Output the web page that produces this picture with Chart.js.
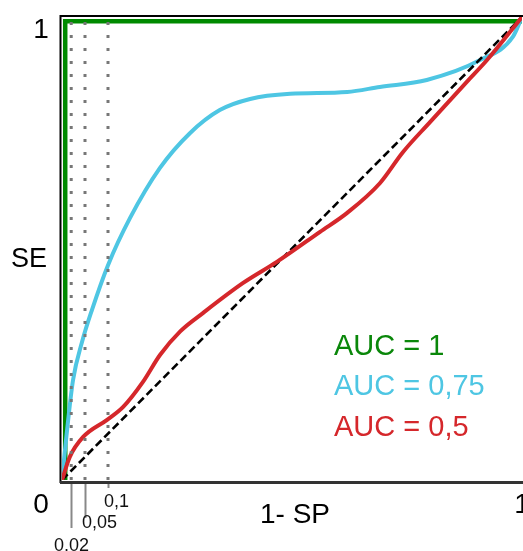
<!DOCTYPE html>
<html>
<head>
<meta charset="utf-8">
<script src="https://cdn.jsdelivr.net/npm/chart.js@4"></script>
<style>
  html, body { margin: 0; padding: 0; background: #fff; }
  #roc { display: block; }
</style>
</head>
<body>
<canvas id="roc" width="523" height="551" role="img" aria-label="ROC curves: AUC = 1, AUC = 0,75, AUC = 0,5"></canvas>
<script>
/* ── Data ────────────────────────────────────────────────────── */
const PERFECT_X = [0.007, 0.007, 1];
const PERFECT_Y = [0, 0.991, 0.991];

const GOOD_X = [0, 0.0087, 0.024, 0.0435, 0.065, 0.1, 0.148, 0.213, 0.278, 0.343, 0.409, 0.496, 0.62, 0.691, 0.793, 0.909, 0.98, 1];
const GOOD_Y = [0, 0.086, 0.216, 0.298, 0.367, 0.464, 0.566, 0.674, 0.749, 0.799, 0.823, 0.834, 0.838, 0.849, 0.864, 0.907, 0.957, 1];

const RANDOM_X = [0, 0.017, 0.046, 0.098, 0.133, 0.176, 0.213, 0.257, 0.307, 0.393, 0.467, 0.561, 0.62, 0.691, 0.741, 0.8, 0.88, 0.924, 1];
const RANDOM_Y = [0, 0.05, 0.093, 0.13, 0.158, 0.212, 0.27, 0.321, 0.361, 0.425, 0.471, 0.536, 0.577, 0.641, 0.708, 0.773, 0.86, 0.907, 1];

const DIAG_X = [0, 1];
const DIAG_Y = [0, 1];

const CUTOFFS = [0.02, 0.05, 0.1];
const CUTOFF_LABELS = ["0,02", "0,05", "0,1"];

const AUC_LABELS = ["AUC = 1", "AUC = 0,75", "AUC = 0,5"];
const AUC_COLORS = ["#0a870a", "#4ec6e3", "#d5272b"];

const X_TITLE = "1- SP";
const Y_TITLE = "SE";

/* ── Helpers ─────────────────────────────────────────────────── */
const pts = (xs, ys) => xs.map((x, i) => ({ x, y: ys[i] }));
const FONT = '"Liberation Sans", Arial, Helvetica, sans-serif';

const cutoffSets = CUTOFFS.map(c => ({
  data: pts([c, c], [0, 1]),
  borderColor: "#777",
  borderWidth: 3,
  borderDash: [3, 10],
  borderCapStyle: "butt",
  pointRadius: 0,
  order: 0
}));

/* frame, cutoff ticks and all the text */
const decor = {
  id: "decor",
  afterDraw(chart) {
    const { ctx, scales: { x } } = chart;
    ctx.save();

    // frame: top + left black, bottom axis dark grey
    ctx.strokeStyle = "#000";
    ctx.lineWidth = 2;
    ctx.beginPath();
    ctx.moveTo(523, 16); ctx.lineTo(60.5, 16); ctx.lineTo(60.5, 483);
    ctx.stroke();
    ctx.strokeStyle = "#333";
    ctx.lineWidth = 3;
    ctx.beginPath();
    ctx.moveTo(60, 482.5); ctx.lineTo(523, 482.5);
    ctx.stroke();

    // cutoff tick lines + staggered labels
    const tickEnd = [528, 518, 488];
    const labelBase = [551, 528, 507];
    const labelDx = [0, 14, 8];
    ctx.strokeStyle = "#888";
    ctx.lineWidth = 2;
    ctx.fillStyle = "#111";
    ctx.font = "18px " + FONT;
    ctx.textAlign = "center";
    ctx.textBaseline = "alphabetic";
    CUTOFFS.forEach((c, i) => {
      const px = Math.round(x.getPixelForValue(c)) + 0.5;
      ctx.beginPath();
      ctx.moveTo(px, 484); ctx.lineTo(px, tickEnd[i]);
      ctx.stroke();
      ctx.fillText(CUTOFF_LABELS[i], px + labelDx[i], labelBase[i]);
    });

    // axis end labels and titles
    ctx.fillStyle = "#000";
    ctx.font = "28px " + FONT;
    ctx.fillText("1", 41, 38);
    ctx.fillText("0", 41, 513);
    ctx.fillText("1", 522, 513);
    ctx.fillText(X_TITLE, 295, 523);
    ctx.font = "27px " + FONT;
    ctx.fillText(Y_TITLE, 29, 267);

    // AUC legend
    ctx.font = "29px " + FONT;
    ctx.textAlign = "left";
    const base = [355, 395, 436];
    AUC_LABELS.forEach((t, i) => {
      ctx.fillStyle = AUC_COLORS[i];
      ctx.fillText(t, 334, base[i]);
    });
    ctx.restore();
  }
};

new Chart(document.getElementById("roc"), {
  type: "line",
  data: {
    datasets: [
      ...cutoffSets,
      {
        data: pts(RANDOM_X, RANDOM_Y),
        borderColor: AUC_COLORS[2],
        borderWidth: 4,
        cubicInterpolationMode: "monotone",
        pointRadius: 0,
        order: 1
      },
      {
        data: pts(DIAG_X, DIAG_Y),
        borderColor: "#000",
        borderWidth: 2.6,
        borderDash: [8, 4],
        pointRadius: 0,
        order: 2
      },
      {
        data: pts(GOOD_X, GOOD_Y),
        borderColor: AUC_COLORS[1],
        borderWidth: 4,
        cubicInterpolationMode: "monotone",
        pointRadius: 0,
        order: 3
      },
      {
        data: pts(PERFECT_X, PERFECT_Y),
        borderColor: "#008a00",
        borderWidth: 4.5,
        borderJoinStyle: "miter",
        tension: 0,
        pointRadius: 0,
        order: 4
      }
    ]
  },
  options: {
    responsive: false,
    animation: false,
    layout: { padding: { left: 62, right: 1, top: 17, bottom: 71 } },
    plugins: { legend: { display: false }, tooltip: { enabled: false } },
    scales: {
      x: { type: "linear", min: 0, max: 1, display: false },
      y: { type: "linear", min: 0, max: 1, display: false }
    }
  },
  plugins: [decor]
});
</script>
</body>
</html>
